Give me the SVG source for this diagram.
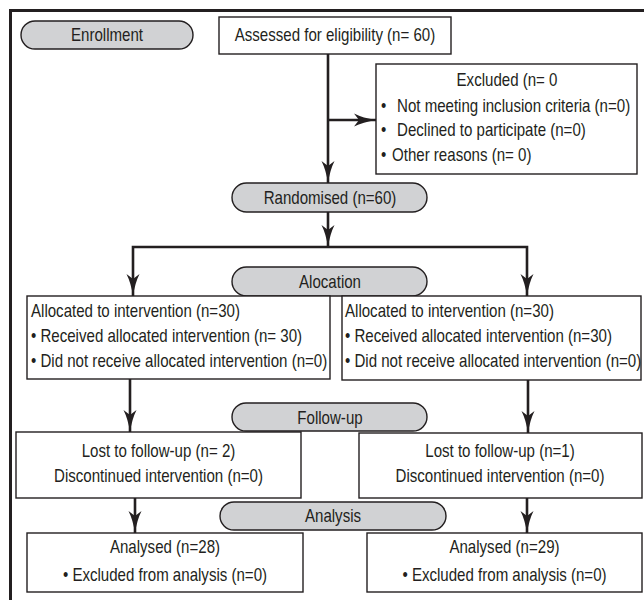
<svg xmlns="http://www.w3.org/2000/svg" width="644" height="600" viewBox="0 0 644 600">
<defs>
<style>
text{font-family:"Liberation Sans","Arial",sans-serif;font-size:18.5px;fill:#231f20}
.c{text-anchor:middle}
.box{fill:#fff;stroke:#231f20;stroke-width:1.4}
.pill{fill:#d1d2d4;stroke:#231f20;stroke-width:1.4}
.conn{fill:none;stroke:#231f20;stroke-width:2.6}
</style>
<marker id="ah" markerUnits="userSpaceOnUse" markerWidth="24" markerHeight="16" refX="22" refY="8" orient="auto" viewBox="0 0 24 16">
<path d="M22,8 Q9,10 0,14.5 L5,8 L0,1.5 Q9,6 22,8 Z" fill="#231f20"/>
</marker>
</defs>
<rect x="10.5" y="10.5" width="700" height="700" fill="#fff" stroke="#231f20" stroke-width="3"/>

<g id="connectors">
<path class="conn" d="M328,54 V183" marker-end="url(#ah)"/>
<path class="conn" d="M328,120 H376" marker-end="url(#ah)"/>
<path class="conn" d="M328,212 V247" marker-end="url(#ah)"/>
<path class="conn" d="M328,247 H133 V296" marker-end="url(#ah)"/>
<path class="conn" d="M328,247 H527 V296" marker-end="url(#ah)"/>
<path class="conn" d="M130,379 V432" marker-end="url(#ah)"/>
<path class="conn" d="M528,380 V433" marker-end="url(#ah)"/>
<path class="conn" d="M135,498 V533" marker-end="url(#ah)"/>
<path class="conn" d="M527,498 V533" marker-end="url(#ah)"/>
</g>

<g id="enrollment">
<rect class="pill" x="21" y="21" width="172" height="28" rx="14"/>
<text class="c" transform="translate(107,41) scale(0.815,1)">Enrollment</text>
</g>
<g id="assessed">
<rect class="box" x="219" y="17" width="232" height="37"/>
<text class="c" transform="translate(335,41) scale(0.815,1)">Assessed for eligibility (n= 60)</text>
</g>
<g id="excluded">
<rect class="box" x="376" y="64" width="261" height="110"/>
<text class="c" transform="translate(507,86) scale(0.815,1)">Excluded (n= 0</text>
<text transform="translate(381,111.5) scale(0.815,1)">•</text><text transform="translate(397,111.5) scale(0.815,1)">Not meeting inclusion criteria (n=0)</text>
<text transform="translate(381,136) scale(0.815,1)">•</text><text transform="translate(397,136) scale(0.815,1)">Declined to participate (n=0)</text>
<text transform="translate(381,161) scale(0.815,1)">•</text><text transform="translate(392,161) scale(0.815,1)">Other reasons (n= 0)</text>
</g>
<g id="randomised">
<rect class="pill" x="232" y="183" width="195" height="29" rx="14.5"/>
<text class="c" transform="translate(330,204) scale(0.815,1)">Randomised (n=60)</text>
</g>
<g id="allocation">
<rect class="pill" x="232" y="267" width="195" height="29" rx="14.5"/>
<text class="c" transform="translate(330,288) scale(0.815,1)">Alocation</text>
</g>
<g id="alloc-left">
<rect class="box" x="27" y="296" width="303" height="83"/>
<text transform="translate(31,316.5) scale(0.815,1)">Allocated to intervention (n=30)</text>
<text transform="translate(31,342) scale(0.815,1)">• Received allocated intervention (n= 30)</text>
<text transform="translate(31,367) scale(0.815,1)">• Did not receive allocated intervention (n=0)</text>
</g>
<g id="alloc-right">
<rect class="box" x="342" y="296" width="299" height="84"/>
<text transform="translate(345,316.5) scale(0.815,1)">Allocated to intervention (n=30)</text>
<text transform="translate(345,342) scale(0.815,1)">• Received allocated intervention (n=30)</text>
<text transform="translate(345,367) scale(0.815,1)">• Did not receive allocated intervention (n=0)</text>
</g>
<g id="followup">
<rect class="pill" x="232" y="403" width="195" height="28" rx="14"/>
<text class="c" transform="translate(330,424) scale(0.815,1)">Follow-up</text>
</g>
<g id="lost-left">
<rect class="box" x="16" y="432" width="285" height="66"/>
<text class="c" transform="translate(158.5,456.5) scale(0.815,1)">Lost to follow-up (n= 2)</text>
<text class="c" transform="translate(158.5,481.5) scale(0.815,1)">Discontinued intervention (n=0)</text>
</g>
<g id="lost-right">
<rect class="box" x="359" y="433" width="283" height="65"/>
<text class="c" transform="translate(500,456.5) scale(0.815,1)">Lost to follow-up (n=1)</text>
<text class="c" transform="translate(500,481.5) scale(0.815,1)">Discontinued intervention (n=0)</text>
</g>
<g id="analysis">
<rect class="pill" x="220" y="502" width="226" height="28" rx="14"/>
<text class="c" transform="translate(333,522) scale(0.815,1)">Analysis</text>
</g>
<g id="analysed-left">
<rect class="box" x="27" y="533" width="276" height="59"/>
<text class="c" transform="translate(165,553) scale(0.815,1)">Analysed (n=28)</text>
<text class="c" transform="translate(165,581) scale(0.815,1)">• Excluded from analysis (n=0)</text>
</g>
<g id="analysed-right">
<rect class="box" x="367" y="533" width="275" height="59"/>
<text class="c" transform="translate(504.5,553) scale(0.815,1)">Analysed (n=29)</text>
<text class="c" transform="translate(504.5,581) scale(0.815,1)">• Excluded from analysis (n=0)</text>
</g>
</svg>
